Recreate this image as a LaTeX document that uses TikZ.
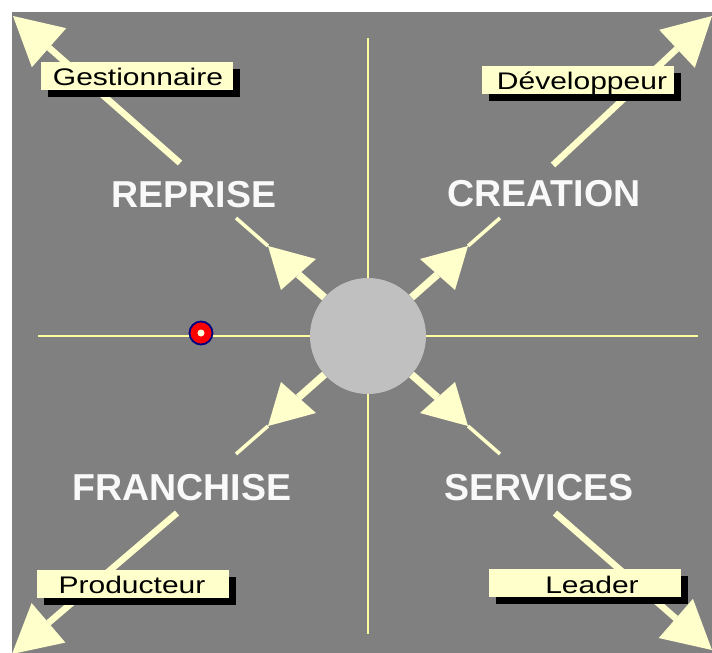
\documentclass[tikz,border=0pt]{standalone}
\usepackage{fontspec}
\usepackage{graphicx}
\setmainfont{Liberation Sans}
\usetikzlibrary{calc,shadows}
\definecolor{bg}{RGB}{128,128,128}
\definecolor{ay}{RGB}{255,255,204}
\definecolor{cross}{RGB}{255,255,160}
\definecolor{disc}{RGB}{192,192,192}
\definecolor{boxy}{RGB}{255,255,204}
\definecolor{navyb}{RGB}{0,0,128}
\definecolor{dotc}{RGB}{255,255,224}
\begin{document}
\begin{tikzpicture}[x=1pt,y=-1pt,
  bigtext/.style={font=\bfseries\fontsize{37.5}{40}\selectfont, text=white!95!gray, anchor=base, inner sep=0},
  tagbox/.style={fill=boxy, minimum width=192pt, minimum height=28pt, inner sep=0,
    drop shadow={shadow xshift=7pt, shadow yshift=-7pt, fill=black, opacity=1}},
  tagtext/.style={font=\fontsize{24}{27}\selectfont, text=black, anchor=base, inner sep=0},
  outerline/.style={draw=ay, line width=6.5pt},
  crossline/.style={draw=cross, line width=1.5pt},
  shaft/.style={draw=ay, line width=7.5pt},
  thintip/.style={draw=ay, line width=3.5pt}]
\useasboundingbox (0,0) rectangle (712,653);
\fill[bg] (12,12) rectangle (712,653);

% crosshair
\coordinate (hL) at (38,336);
\coordinate (hR) at (698,336);
\coordinate (vT) at (368,38);
\coordinate (vB) at (368,634);
\draw[crossline] (hL) -- (hR);
\draw[crossline] (vT) -- (vB);

% outer arrows
\coordinate (onwS) at (180,163); \coordinate (onwT) at (13,16);
\coordinate (oneS) at (553,165); \coordinate (oneT) at (712,16);
\coordinate (oswS) at (177,513); \coordinate (oswT) at (12,654);
\coordinate (oseS) at (555,513); \coordinate (oseT) at (712,650);
\begin{scope}
\clip (12,12) rectangle (712,653);
\foreach \n in {onw,one,osw,ose}{
  \coordinate (\n B) at ($(\n T)!48pt!(\n S)$);
  \draw[outerline] (\n S) -- (\n B);
  \fill[ay] (\n T) -- ($(\n B)!26pt!90:(\n T)$) -- ($(\n B)!26pt!-90:(\n T)$) -- cycle;
}
\end{scope}

% tag boxes
\node[tagbox] (gbox) at (137,76) {};
\node[tagbox] (dbox) at (578,80) {};
\node[tagbox] (pbox) at (132.5,583.5) {};
\node[tagbox] (lbox) at (585,582.5) {};
\node[tagtext] (gtxt) at (138,85) {\scalebox{1.25}[1]{Gestionnaire}};
\node[tagtext] (dtxt) at (582,89) {\scalebox{1.25}[1]{Développeur}};
\node[tagtext] (ptxt) at (132,593) {\scalebox{1.25}[1]{Producteur}};
\node[tagtext] (ltxt) at (592,593) {\scalebox{1.25}[1]{Leader}};

% hub
\node[circle, fill=disc, minimum size=116pt, inner sep=0] (hub) at (368,336) {};

% inner arrows
\foreach \n/\sx/\sy in {inw/-1/-1,ine/1/-1,isw/-1/1,ise/1/1}{
  \coordinate (\n F) at ($(hub)+(\sx*132,\sy*118)$);
  \coordinate (\n T) at ($(hub)+(\sx*100,\sy*90)$);
  \coordinate (\n A) at ($(hub)+(\sx*52,\sy*77)$);
  \coordinate (\n B) at ($(hub)+(\sx*87,\sy*46)$);
  \coordinate (\n M) at ($(\n A)!.5!(\n B)$);
  \draw[shaft] (hub) -- (\n M);
  \draw[thintip] (\n T) -- (\n F);
  \fill[ay] (\n T) -- (\n A) -- (\n B) -- cycle;
}

% red marker
\node[circle, draw=navyb, line width=1.8pt, fill=red, minimum size=23pt, inner sep=0] (dot) at (201,333) {};
\node[circle, fill=dotc, minimum size=7pt, inner sep=0] (dotc) at (dot) {};

% main labels
\node[bigtext] (rep) at (194,207) {REPRISE};
\node[bigtext] (cre) at (544,206) {CREATION};
\node[bigtext] (fra) at (182,500) {FRANCHISE};
\node[bigtext] (ser) at (539,500) {SERVICES};
\end{tikzpicture}
\end{document}
